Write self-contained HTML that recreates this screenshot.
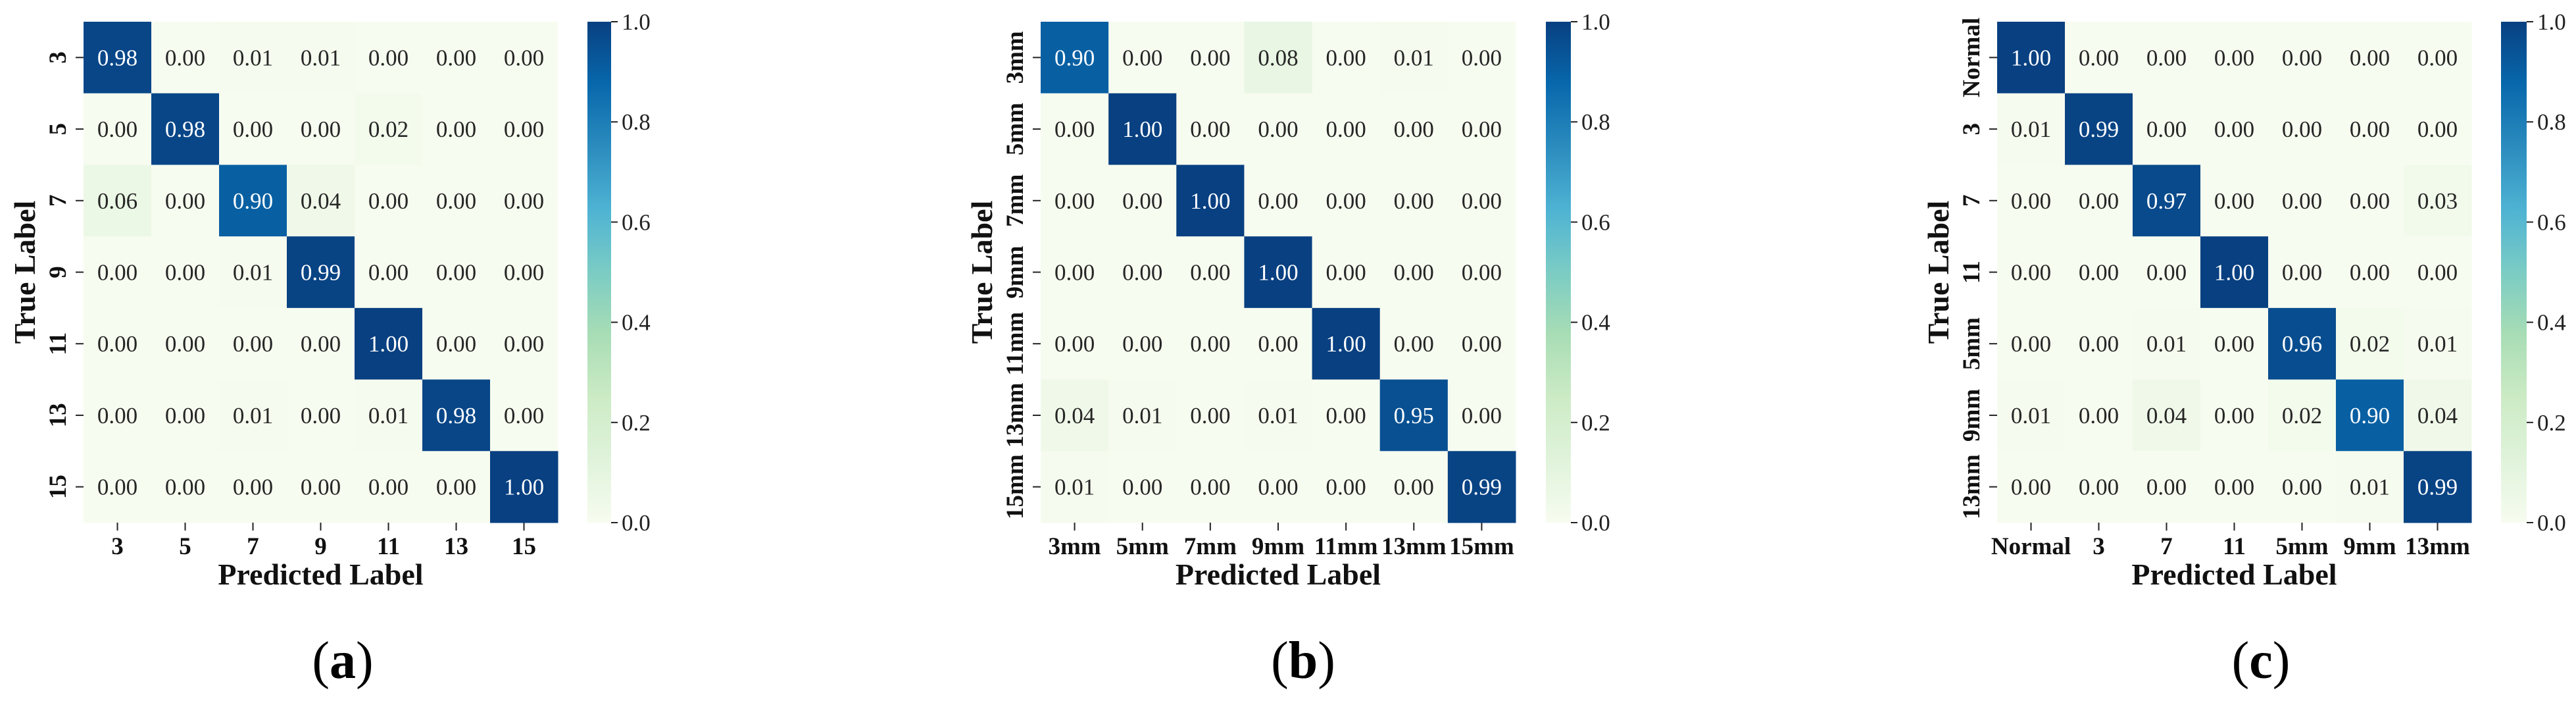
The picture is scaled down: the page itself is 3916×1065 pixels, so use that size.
<!DOCTYPE html>
<html><head><meta charset="utf-8">
<style>
html,body{margin:0;padding:0;background:#fff;}
svg{display:block;}
svg text{font-family:"Liberation Serif","Times New Roman",serif;}
</style></head>
<body>
<svg id="fig" width="3916" height="1065" viewBox="0 0 3916 1065" xmlns="http://www.w3.org/2000/svg" font-family="Liberation Serif, Times New Roman, serif">
<defs>
<linearGradient id="gnbu" x1="0" y1="1" x2="0" y2="0">
<stop offset="0" stop-color="#f7fcf0"/><stop offset="0.125" stop-color="#e0f3db"/>
<stop offset="0.25" stop-color="#ccebc5"/><stop offset="0.375" stop-color="#a8ddb5"/>
<stop offset="0.5" stop-color="#7bccc4"/><stop offset="0.625" stop-color="#4eb3d3"/>
<stop offset="0.75" stop-color="#2b8cbe"/><stop offset="0.875" stop-color="#0868ac"/>
<stop offset="1" stop-color="#084081"/>
</linearGradient>
</defs>
</svg>
<script>
const labelsA = ["3","5","7","9","11","13","15"];
const valuesA = [
 [0.98,0.00,0.01,0.01,0.00,0.00,0.00],
 [0.00,0.98,0.00,0.00,0.02,0.00,0.00],
 [0.06,0.00,0.90,0.04,0.00,0.00,0.00],
 [0.00,0.00,0.01,0.99,0.00,0.00,0.00],
 [0.00,0.00,0.00,0.00,1.00,0.00,0.00],
 [0.00,0.00,0.01,0.00,0.01,0.98,0.00],
 [0.00,0.00,0.00,0.00,0.00,0.00,1.00]];
const labelsB = ["3mm","5mm","7mm","9mm","11mm","13mm","15mm"];
const valuesB = [
 [0.90,0.00,0.00,0.08,0.00,0.01,0.00],
 [0.00,1.00,0.00,0.00,0.00,0.00,0.00],
 [0.00,0.00,1.00,0.00,0.00,0.00,0.00],
 [0.00,0.00,0.00,1.00,0.00,0.00,0.00],
 [0.00,0.00,0.00,0.00,1.00,0.00,0.00],
 [0.04,0.01,0.00,0.01,0.00,0.95,0.00],
 [0.01,0.00,0.00,0.00,0.00,0.00,0.99]];
const labelsC = ["Normal","3","7","11","5mm","9mm","13mm"];
const valuesC = [
 [1.00,0.00,0.00,0.00,0.00,0.00,0.00],
 [0.01,0.99,0.00,0.00,0.00,0.00,0.00],
 [0.00,0.00,0.97,0.00,0.00,0.00,0.03],
 [0.00,0.00,0.00,1.00,0.00,0.00,0.00],
 [0.00,0.00,0.01,0.00,0.96,0.02,0.01],
 [0.01,0.00,0.04,0.00,0.02,0.90,0.04],
 [0.00,0.00,0.00,0.00,0.00,0.01,0.99]];
const cbTicks = [0,0.2,0.4,0.6,0.8,1.0];
const cbTickLabels = ["0.0","0.2","0.4","0.6","0.8","1.0"];

const FONT="Liberation Serif, Times New Roman, serif";
const stops=["#f7fcf0","#e0f3db","#ccebc5","#a8ddb5","#7bccc4","#4eb3d3","#2b8cbe","#0868ac","#084081"];
function hex(h){return [1,3,5].map(i=>parseInt(h.substr(i,2),16));}
function cmap(v){v=Math.max(0,Math.min(1,v));const p=v*(stops.length-1);const i=Math.min(Math.floor(p),stops.length-2);const t=p-i;const a=hex(stops[i]),b=hex(stops[i+1]);return `rgb(${a.map((c,k)=>Math.round(c+(b[k]-c)*t)).join(',')})`;}
const NS="http://www.w3.org/2000/svg";
const svg=document.getElementById('fig');
function el(tag,attrs,parent,text){const e=document.createElementNS(NS,tag);for(const k in attrs)e.setAttribute(k,attrs[k]);if(tag==='text')e.setAttribute('font-family',FONT);if(text!==undefined)e.textContent=text;(parent||svg).appendChild(e);return e;}

function panel(id,labels,values,left,right,cbL,cbR,caption,capX){
  const top=33,bottom=794,n=labels.length;
  const g=el('g',{});
  
  
  const cw=(right-left)/n,ch=(bottom-top)/n;
  const xs=i=>left+i*cw, ys=j=>top+j*ch;
  values.forEach((row,r)=>row.forEach((v,c)=>{
    const rc=el('rect',{x:xs(c),y:ys(r),width:cw+0.5,height:ch+0.5,fill:cmap(v)},g);
    
    
    const t=el('text',{x:xs(c)+cw/2,y:ys(r)+ch/2+12,'text-anchor':'middle','font-size':35,fill:v>0.5?'#ffffff':'#262626'},g,v.toFixed(2));
    
    
  }));
  labels.forEach((lb,i)=>{
    const cx=xs(i)+cw/2, cy=ys(i)+ch/2;
    el('line',{x1:cx,y1:bottom,x2:cx,y2:bottom+12,stroke:'#222','stroke-width':2},g);
    const tx=el('text',{x:cx,y:bottom+48,'text-anchor':'middle','font-size':37,'font-weight':'bold',fill:'#111'},g,lb);
    
    
    el('line',{x1:left-12,y1:cy,x2:left,y2:cy,stroke:'#222','stroke-width':2},g);
    const ty=el('text',{x:0,y:0,'text-anchor':'middle','font-size':37,'font-weight':'bold',fill:'#111',transform:`translate(${left-27},${cy}) rotate(-90)`},g,lb);
    
    
  });
  const xt=el('text',{x:(left+right)/2,y:888,'text-anchor':'middle','font-size':46,'font-weight':'bold',fill:'#111'},g,'Predicted Label');
  
  
  const yt=el('text',{x:0,y:0,'text-anchor':'middle','font-size':46,'font-weight':'bold',fill:'#111',transform:`translate(${left-74},${(top+bottom)/2}) rotate(-90)`},g,'True Label');
  
  
  const cb=el('rect',{x:cbL,y:top,width:cbR-cbL,height:bottom-top,fill:'url(#gnbu)'},g);
  
  
  const cy=v=>bottom-v*(bottom-top);
  cbTicks.forEach((v,i)=>{
    el('line',{x1:cbR,y1:cy(v),x2:cbR+10,y2:cy(v),stroke:'#222','stroke-width':2},g);
    const t=el('text',{x:cbR+16,y:cy(v)+12,'font-size':35,fill:'#222'},g,cbTickLabels[i]);
    
    
  });
  const cap=el('text',{x:capX,y:1030,'text-anchor':'middle','font-size':80,fill:'#000'},g);
  
  
  el('tspan',{},cap,'(');el('tspan',{'font-weight':'bold'},cap,caption);el('tspan',{},cap,')');
}
panel('a',labelsA,valuesA,127,848,893,929,'a',521);
panel('b',labelsB,valuesB,1582,2304,2350,2388,'b',1981);
panel('c',labelsC,valuesC,3036,3757,3802,3841,'c',3437);
</script>
</body></html>
